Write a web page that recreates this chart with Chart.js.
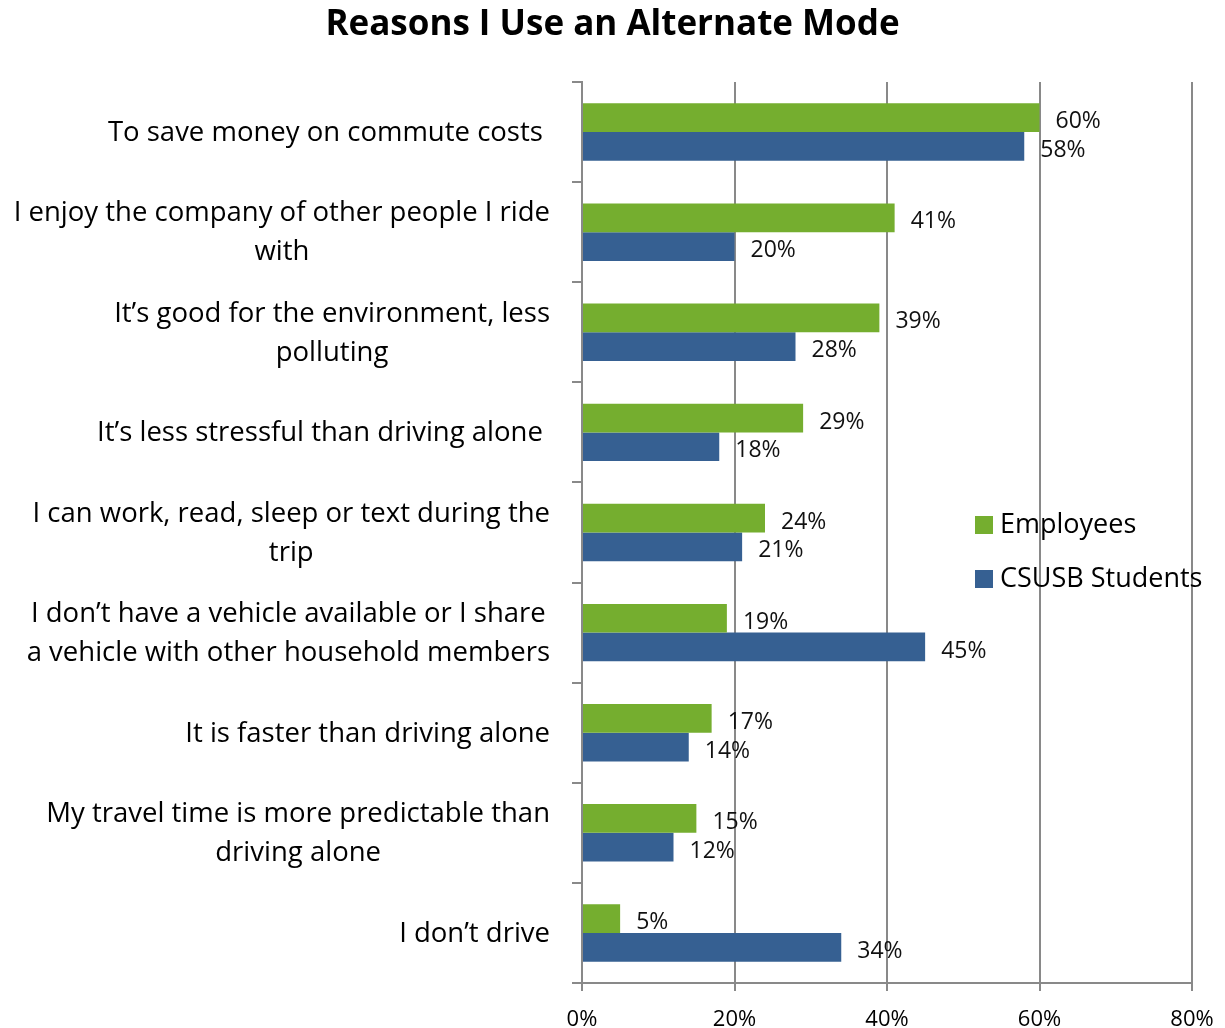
<!DOCTYPE html>
<html>
<head>
<meta charset="utf-8">
<script src="https://cdn.jsdelivr.net/npm/chart.js@4"></script>
<style>
  html, body { margin: 0; padding: 0; background: #fff; }
  #wrap { width: 1225px; height: 1028px; }
</style>
</head>
<body>
<div id="wrap"><canvas id="modeChart" width="1225" height="1028"></canvas></div>
<script>
// reasons, one array per label line
const reasons = [
    ['To save money on commute costs '],
    ['I enjoy the company of other people I ride', 'with'],
    ['It’s good for the environment, less', 'polluting'],
    ['It’s less stressful than driving alone '],
    ['I can work, read, sleep or text during the', 'trip'],
    ['I don’t have a vehicle available or I share', 'a vehicle with other household members'],
    ['It is faster than driving alone'],
    ['My travel time is more predictable than', 'driving alone'],
    ['I don’t drive']
];
const employees = [60, 41, 39, 29, 24, 19, 17, 15, 5];
const students = [58, 20, 28, 18, 21, 45, 14, 12, 34];
const xTicks = [0, 20, 40, 60, 80];

const TITLE = 'Reasons I Use an Alternate Mode';
const FONT = "'Open Sans', sans-serif";
const GRID = '#898989';

// title centred on the full canvas width
const pageTitle = {
    id: 'pageTitle',
    afterDraw(chart) {
        const { ctx } = chart;
        ctx.save();
        ctx.font = 'bold 35px ' + FONT;
        ctx.fillStyle = '#000';
        ctx.textAlign = 'center';
        ctx.textBaseline = 'middle';
        ctx.fillText(TITLE, chart.width / 2, 25);
        ctx.restore();
    }
};

// category labels: block right-aligned to the axis, lines centred inside the block
const reasonLabels = {
    id: 'reasonLabels',
    afterDraw(chart) {
        const { ctx, scales: { y } } = chart;
        ctx.save();
        ctx.font = '27.5px ' + FONT;
        ctx.fillStyle = '#000';
        ctx.textAlign = 'center';
        ctx.textBaseline = 'middle';
        chart.data.labels.forEach((lines, i) => {
            const cy = y.getPixelForValue(i);
            const w = Math.max(...lines.map(l => ctx.measureText(l).width));
            const cx = 550 - w / 2;
            lines.forEach((l, j) => {
                ctx.fillText(l, cx, cy + 1 + (j - (lines.length - 1) / 2) * 39);
            });
        });
        ctx.restore();
    }
};

// percentage after the end of each bar
const valueLabels = {
    id: 'valueLabels',
    afterDatasetsDraw(chart) {
        const { ctx } = chart;
        ctx.save();
        ctx.font = '23px ' + FONT;
        ctx.fillStyle = '#111';
        ctx.textAlign = 'left';
        ctx.textBaseline = 'middle';
        chart.data.datasets.forEach((ds, di) => {
            chart.getDatasetMeta(di).data.forEach((bar, i) => {
                ctx.fillText(ds.data[i] + '%', bar.x + 16, bar.y + 4);
            });
        });
        ctx.restore();
    }
};

// legend sitting inside the plot on the right
const sideLegend = {
    id: 'sideLegend',
    afterDraw(chart) {
        const { ctx } = chart;
        const rows = [525, 579];
        ctx.save();
        ctx.font = '27px ' + FONT;
        ctx.textAlign = 'left';
        ctx.textBaseline = 'middle';
        chart.data.datasets.forEach((ds, i) => {
            ctx.fillStyle = ds.backgroundColor;
            ctx.fillRect(975, rows[i] - 9, 18, 18);
            ctx.fillStyle = '#000';
            ctx.fillText(ds.label, 1000, rows[i]);
        });
        ctx.restore();
    }
};

new Chart(document.getElementById('modeChart'), {
    type: 'bar',
    data: {
        labels: reasons,
        datasets: [
            { label: 'Employees', data: employees, backgroundColor: '#75AE2F' },
            { label: 'CSUSB Students', data: students, backgroundColor: '#366092' }
        ]
    },
    options: {
        indexAxis: 'y',
        responsive: false,
        animation: false,
        categoryPercentage: 0.574,
        barPercentage: 1.0,
        layout: { padding: { left: 0, right: 33, top: 82, bottom: 0 } },
        plugins: {
            legend: { display: false },
            tooltip: { enabled: false },
            title: { display: false }
        },
        scales: {
            x: {
                min: 0,
                max: 80,
                afterBuildTicks: s => { s.ticks = xTicks.map(v => ({ value: v })); },
                afterFit: s => {
                    s.height = 45;
                    s.paddingLeft = 0;
                    s.paddingRight = 0;
                },
                grid: { color: GRID, lineWidth: 2, tickLength: 8 },
                border: { color: GRID, width: 2 },
                ticks: {
                    color: '#000',
                    padding: 16,
                    font: { family: FONT, size: 22 },
                    callback: v => v + '%'
                }
            },
            y: {
                afterFit: s => { s.width = 582; },
                grid: { color: GRID, lineWidth: 2, drawOnChartArea: false, tickLength: 10, offset: true },
                border: { color: GRID, width: 2 },
                ticks: { display: false }
            }
        }
    },
    plugins: [pageTitle, reasonLabels, valueLabels, sideLegend]
});
</script>
</body>
</html>
